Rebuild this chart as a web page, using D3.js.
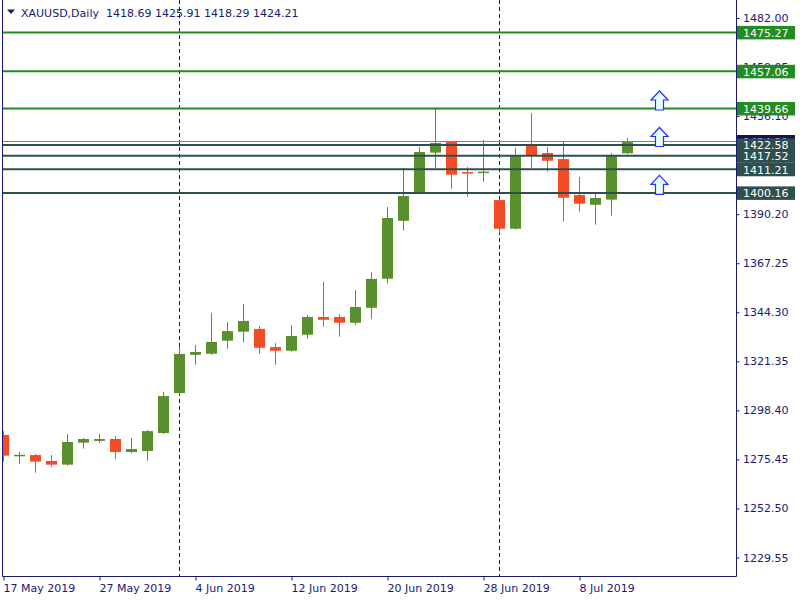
<!DOCTYPE html>
<html>
<head>
<meta charset="utf-8">
<script src="https://cdn.jsdelivr.net/npm/d3@7"></script>
<style>
  html, body { margin: 0; padding: 0; background: #ffffff; }
  svg { display: block; }
  text { font-family: "DejaVu Sans", sans-serif; font-size: 11px; }
</style>
</head>
<body>
<script>
// ---------------- DATA ----------------
const symbol = "XAUUSD,Daily";
const dates = [
  "2019-05-17","2019-05-20","2019-05-21","2019-05-22","2019-05-23","2019-05-24",
  "2019-05-27","2019-05-28","2019-05-29","2019-05-30","2019-05-31",
  "2019-06-03","2019-06-04","2019-06-05","2019-06-06","2019-06-07",
  "2019-06-10","2019-06-11","2019-06-12","2019-06-13","2019-06-14",
  "2019-06-17","2019-06-18","2019-06-19","2019-06-20","2019-06-21",
  "2019-06-24","2019-06-25","2019-06-26","2019-06-27","2019-06-28",
  "2019-07-01","2019-07-02","2019-07-03","2019-07-04","2019-07-05",
  "2019-07-08","2019-07-09","2019-07-10","2019-07-11"
];
const opens  = [1286.9,1277.1,1277.5,1274.7,1273.0,1283.3,1284.1,1285.0,1278.9,1279.4,
                1287.8,1306.5,1324.4,1324.9,1331.0,1335.2,1336.5,1328.0,1326.3,1333.8,
                1342.1,1342.1,1339.4,1346.4,1360.0,1387.1,1400.2,1419.0,1424.0,1409.9,
                1409.8,1396.8,1383.4,1422.1,1418.8,1416.0,1399.2,1394.6,1397.0,1418.69];
const highs  = [1288.7,1278.9,1278.0,1277.5,1287.3,1285.5,1287.3,1286.4,1285.5,1289.2,
                1307.0,1328.0,1329.0,1344.0,1339.7,1348.2,1337.9,1329.9,1338.3,1343.0,
                1358.5,1343.5,1354.7,1363.1,1393.6,1411.8,1421.6,1439.4,1424.1,1412.3,
                1424.9,1397.2,1421.2,1437.5,1421.6,1424.0,1407.6,1400.3,1418.7,1425.91];
const lows   = [1274.4,1273.4,1269.2,1272.0,1272.5,1280.5,1283.1,1275.6,1278.4,1274.8,
                1287.3,1305.6,1319.8,1324.4,1327.2,1330.1,1324.9,1319.8,1325.8,1331.9,
                1337.5,1332.9,1338.5,1341.1,1357.7,1382.5,1399.8,1411.8,1402.1,1398.4,
                1405.4,1381.5,1383.0,1411.8,1410.1,1386.7,1391.4,1385.3,1389.5,1418.29];
const closes = [1277.2,1277.6,1274.4,1273.0,1283.6,1285.0,1285.0,1278.9,1280.3,1288.7,
                1305.1,1324.8,1325.7,1330.4,1335.5,1340.2,1327.7,1326.3,1333.2,1342.1,
                1340.8,1339.4,1346.8,1359.9,1388.4,1398.7,1419.3,1423.5,1408.7,1409.4,
                1410.1,1383.4,1417.9,1417.9,1415.2,1397.9,1395.1,1397.8,1417.9,1424.21];

const yTickValues = [1229.55,1252.50,1275.45,1298.40,1321.35,1344.30,1367.25,1390.20,1413.15,1436.10,1459.05,1482.00];
const xTickDates  = ["2019-05-17","2019-05-27","2019-06-04","2019-06-12","2019-06-20","2019-06-28","2019-07-08"];
const xTickLabels = ["17 May 2019","27 May 2019","4 Jun 2019","12 Jun 2019","20 Jun 2019","28 Jun 2019","8 Jul 2019"];
const separatorDates = ["2019-06-03","2019-07-01"];

const resistanceLevels = [1475.27, 1457.06, 1439.66];           // green lines
const supportLevels    = [1422.58, 1417.52, 1411.21, 1400.16];   // dark slate lines
const bidPrice = 1424.21;
const arrowLevels = [1439.66, 1422.58, 1400.16];
const arrowBarIndex = 41;   // two bars after the last candle

// ---------------- LAYOUT ----------------
const W = 800, H = 600;
const left = 2.5, right = 736.5, bottom = 576.5;
const colUp = "#5a8f2e", colDn = "#f34b25";
const navy = "#191970";

const svg = d3.select("body").append("svg").attr("width", W).attr("height", H);

const x = d3.scaleLinear().domain([0, dates.length - 1]).range([3.5, 627.5]);
const y = d3.scaleLinear().domain([1229.55, 1482.00]).range([557.5, 18]);
const idx = d => dates.indexOf(d);

svg.append("defs").append("clipPath").attr("id", "plot")
  .append("rect").attr("x", 3).attr("y", 0).attr("width", right - 3).attr("height", bottom);

const plot = svg.append("g").attr("clip-path", "url(#plot)");

// period separators
plot.selectAll("line.sep").data(separatorDates).join("line")
  .attr("x1", d => Math.round(x(idx(d))) - 0.5).attr("x2", d => Math.round(x(idx(d))) - 0.5)
  .attr("y1", 0).attr("y2", bottom)
  .attr("stroke", navy).attr("stroke-width", 1).attr("stroke-dasharray", "4,3");

// candles
const candles = d3.range(dates.length).map(i => ({i, o: opens[i], h: highs[i], l: lows[i], c: closes[i]}));
const cg = plot.selectAll("g.c").data(candles).join("g");
cg.append("line")
  .attr("x1", d => x(d.i)).attr("x2", d => x(d.i))
  .attr("y1", d => y(d.h)).attr("y2", d => y(d.l))
  .attr("stroke", d => d.c >= d.o ? colUp : colDn).attr("stroke-width", 1);
cg.append("rect")
  .attr("x", d => x(d.i) - 5.5).attr("width", 11)
  .attr("y", d => Math.min(y(d.o), y(d.c)))
  .attr("height", d => Math.max(1.5, Math.abs(y(d.o) - y(d.c))))
  .attr("fill", d => d.c >= d.o ? colUp : colDn);

// horizontal lines
plot.append("line")
  .attr("x1", left).attr("x2", right).attr("y1", y(bidPrice)).attr("y2", y(bidPrice))
  .attr("stroke", "#778899").attr("stroke-width", 1);
plot.selectAll("line.res").data(resistanceLevels).join("line")
  .attr("x1", left).attr("x2", right).attr("y1", d => y(d)).attr("y2", d => y(d))
  .attr("stroke", "#228b22").attr("stroke-width", 2);
plot.selectAll("line.sup").data(supportLevels).join("line")
  .attr("x1", left).attr("x2", right).attr("y1", d => y(d)).attr("y2", d => y(d))
  .attr("stroke", "#2f4f4f").attr("stroke-width", 2);

// arrows (anchored at bottom = price level)
const arrowPath = "M0,-19 L8.5,-10 L4,-10 L4,0 L-4,0 L-4,-10 L-8.5,-10 Z";
plot.selectAll("path.arrow").data(arrowLevels).join("path")
  .attr("transform", d => `translate(${x(arrowBarIndex)},${y(d) + 1.5})`)
  .attr("d", arrowPath)
  .attr("fill", "#e8ffff").attr("stroke", "#2a2aff").attr("stroke-width", 1.2);

// borders
svg.append("line").attr("x1", left).attr("x2", left).attr("y1", 0).attr("y2", bottom).attr("stroke", navy);
svg.append("line").attr("x1", left).attr("x2", right).attr("y1", bottom).attr("y2", bottom).attr("stroke", navy);
svg.append("line").attr("x1", right).attr("x2", right).attr("y1", 0).attr("y2", bottom).attr("stroke", navy);

// right price axis
const yAxis = d3.axisRight(y).tickValues(yTickValues).tickSize(3).tickPadding(3.5)
  .tickFormat(d3.format(".2f"));
const ya = svg.append("g").attr("transform", `translate(${right},0)`).call(yAxis);
ya.select(".domain").remove();
ya.selectAll("line").attr("stroke", navy);
ya.selectAll("text").attr("fill", navy).style("font-family", "DejaVu Sans").style("font-size", "11px");

// bottom date axis
const xAxis = d3.axisBottom(x).tickValues(xTickDates.map(idx)).tickSize(4).tickPadding(4)
  .tickFormat((d, i) => xTickLabels[i]);
const xa = svg.append("g").attr("transform", `translate(0,${bottom})`).call(xAxis);
xa.select(".domain").remove();
xa.selectAll("line").attr("stroke", navy);
xa.selectAll("text").attr("fill", navy).attr("text-anchor", "start").attr("dx", "-0.5")
  .style("font-family", "DejaVu Sans").style("font-size", "11px");

// price labels on the right
const labels = []
  .concat([{v: bidPrice, bg: "#14145a"}])
  .concat(resistanceLevels.map(v => ({v, bg: "#228b22"})))
  .concat(supportLevels.map(v => ({v, bg: "#2f4f4f"})));
const lg = svg.selectAll("g.lab").data(labels).join("g")
  .attr("transform", d => `translate(${right + 0.5},${y(d.v)})`);
lg.append("rect").attr("x", 0).attr("y", -6.5).attr("width", 58).attr("height", 13.5).attr("fill", d => d.bg);
lg.append("text").attr("x", 6).attr("y", 4.5).attr("fill", "#ffffff").text(d => d3.format(".2f")(d.v));

// header
svg.append("path").attr("d", "M7,9.5 L15,9.5 L11,14 Z").attr("fill", navy);
svg.append("text").attr("x", 21).attr("y", 17).attr("fill", navy)
  .text(`${symbol}  ${d3.format(".2f")(opens[39])} ${d3.format(".2f")(highs[39])} ${d3.format(".2f")(lows[39])} ${d3.format(".2f")(closes[39])}`)
  .attr("xml:space", "preserve").style("white-space", "pre");
</script>
</body>
</html>
